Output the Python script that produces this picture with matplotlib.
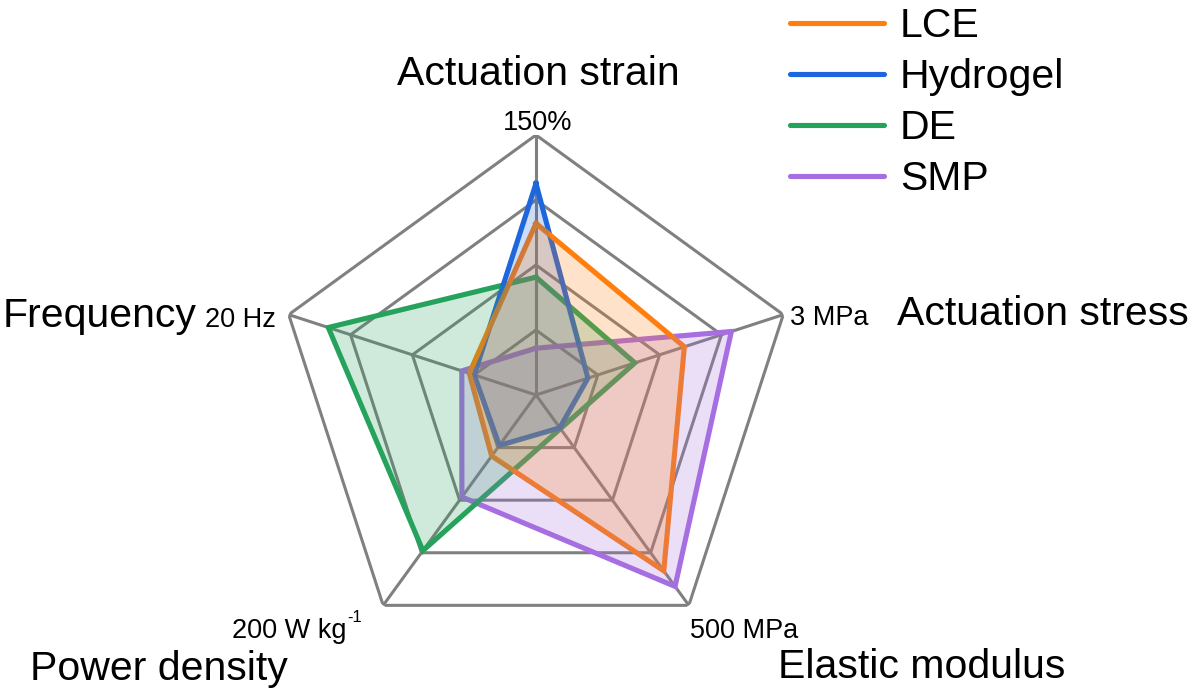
import numpy as np
import matplotlib
matplotlib.use("Agg")
import matplotlib.pyplot as plt
from matplotlib.lines import Line2D

plt.rcParams['font.family'] = ['Liberation Sans', 'DejaVu Sans']

# ---- data ----
axis_names = ["Actuation strain", "Actuation stress", "Elastic modulus", "Power density", "Frequency"]
axis_max = [150, 3, 500, 200, 20]
max_labels = ["150%", "3 MPa", "500 MPa", "200 W kg", "20 Hz"]
power_sup = "-1"
series_names = ["LCE", "Hydrogel", "DE", "SMP"]
LCE = [99, 1.8, 418, 58, 5.4]
Hydrogel = [122, 0.63, 78, 48, 5.0]
DE = [68, 1.2, 80, 148, 16.8]
SMP = [27, 2.37, 455, 97, 6.0]
series_values = [LCE, Hydrogel, DE, SMP]
colors = ["#FF7F0E", "#1E66DC", "#25A35C", "#A66EE0"]
grid_levels = [0.25, 0.5, 0.75, 1.0]

W, H = 1200, 697
fig = plt.figure(figsize=(12, 6.97), dpi=100)
cx, cy, R = 536, 395, 260
ax = fig.add_axes([(cx - R) / W, (H - cy - R) / H, 2 * R / W, 2 * R / H], projection='polar')
ax.set_theta_offset(np.pi / 2)
ax.set_theta_direction(-1)
ax.set_ylim(0, 1)
ax.grid(False)
ax.spines['polar'].set_visible(False)
ax.set_xticks([])
ax.set_yticks([])
ax.patch.set_alpha(0)

n = len(axis_names)
theta = np.arange(n) * 2 * np.pi / n
theta_c = np.append(theta, theta[0])

grey = "#808080"
for lv in grid_levels:
    ax.plot(theta_c, [lv] * (n + 1), color=grey, lw=2.2, zorder=1)
for t in theta:
    ax.plot([t, t], [0, 1], color=grey, lw=2.2, zorder=1)

order = [3, 2, 1, 0]
for i in order:
    vals = np.array(series_values[i]) / np.array(axis_max)
    vc = np.append(vals, vals[0])
    ax.plot(theta_c, vc, color=colors[i], lw=3.7, zorder=2, solid_joinstyle='miter')
for i in order:
    vals = np.array(series_values[i]) / np.array(axis_max)
    vc = np.append(vals, vals[0])
    ax.fill(theta_c, vc, color=colors[i], alpha=0.22, lw=0, zorder=3)


def ftext(x, y, s, size, ha='left', va='baseline'):
    return fig.text(x / W, 1 - y / H, s, fontsize=size, ha=ha, va=va)

big = 29.5
small = 19.5
ftext(538, 85, axis_names[0], big, ha='center')
ftext(538, 130, max_labels[0], small, ha='center')
ftext(790, 325, max_labels[1], small)
ftext(897, 325, axis_names[1], big)
ftext(3, 327, axis_names[4], big)
ftext(205, 327, max_labels[4], small)
t_pw = ftext(232, 638, max_labels[3], small)
ftext(30, 680, axis_names[3], big)
ftext(690, 638, max_labels[2], small)
ftext(778, 678, axis_names[2], big)

renderer = fig.canvas.get_renderer()
bb = t_pw.get_window_extent(renderer)
fig.text(bb.x1 / W + 1 / W, 1 - 622 / H, power_sup, fontsize=12, ha='left', va='baseline')

handles = [Line2D([0], [0], color=c, lw=3.7, solid_capstyle='round') for c in colors]
fig.legend(handles, series_names, loc='upper left', bbox_to_anchor=(786 / W, 1 - 3 / H),
           frameon=False, fontsize=big, handlelength=2.3, handletextpad=0.38,
           labelspacing=0.32, borderaxespad=0, borderpad=0.1)

fig.savefig("out.png", dpi=100)
